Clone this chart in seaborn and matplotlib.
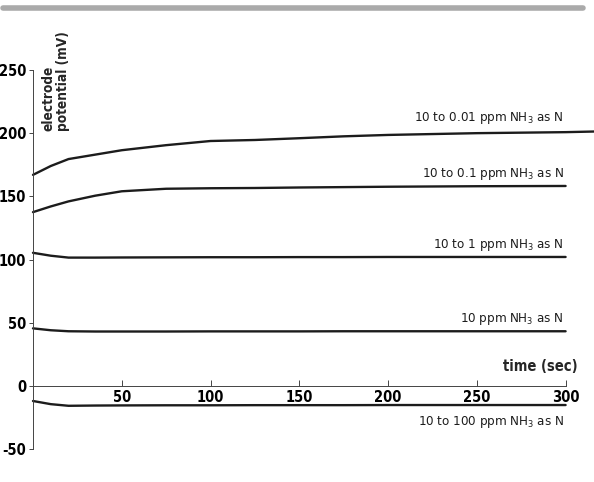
import numpy as np
import pandas as pd
import matplotlib
matplotlib.use("Agg")
import matplotlib.pyplot as plt
import seaborn as sns

# --- data ---
time_top = [0, 10, 20, 35, 50, 75, 100, 125, 150, 175, 200, 250, 300, 316]
mv_001 = [167, 174, 179.5, 183, 186.5, 190.5, 193.8, 194.6, 196, 197.5, 198.6, 200, 200.8, 201.3]

time_sec = [0, 10, 20, 35, 50, 75, 100, 125, 150, 175, 200, 250, 300]
mv_01 = [137.5, 142, 146, 150.5, 154, 156, 156.4, 156.6, 157, 157.3, 157.6, 158, 158.2]
mv_1 = [105.3, 103, 101.5, 101.5, 101.6, 101.7, 101.8, 101.8, 101.9, 101.9, 102, 102, 102]
mv_10 = [45.5, 44, 43.2, 43, 43, 43, 43.1, 43.1, 43.1, 43.2, 43.2, 43.2, 43.2]
mv_100 = [-12, -14.5, -15.8, -15.6, -15.5, -15.4, -15.4, -15.3, -15.3, -15.3, -15.2, -15.2, -15.2]

series_labels = [
    "10 to 0.01 ppm NH$_3$ as N",
    "10 to 0.1 ppm NH$_3$ as N",
    "10 to 1 ppm NH$_3$ as N",
    "10 ppm NH$_3$ as N",
    "10 to 100 ppm NH$_3$ as N",
]
label_y = [212, 168, 111.5, 53, -28.5]

x_ticks = [50, 100, 150, 200, 250, 300]
y_ticks = [-50, 0, 50, 100, 150, 200, 250]

sns.set_theme(style="white")
plt.rcParams["font.family"] = ["DejaVu Sans"]
plt.rcParams["font.stretch"] = "condensed"
plt.rcParams["axes.unicode_minus"] = False
plt.rcParams["mathtext.fontset"] = "custom"
plt.rcParams["mathtext.rm"] = "DejaVu Sans:stretch=condensed"
plt.rcParams["mathtext.it"] = "DejaVu Sans:stretch=condensed"

fig = plt.figure(figsize=(5.94, 4.82), dpi=100)
ax = fig.add_axes([33 / 594, 33 / 482, 561 / 594, 379 / 482])

ink = "#1c1c1c"
curves = [(time_top, mv_001), (time_sec, mv_01), (time_sec, mv_1),
          (time_sec, mv_10), (time_sec, mv_100)]
for xs, ys in curves:
    sns.lineplot(x=xs, y=ys, ax=ax, color=ink, linewidth=1.7, clip_on=False)

for txt, yv in zip(series_labels, label_y):
    ax.text(299, yv, txt, ha="right", va="center", fontsize=9.5, color=ink)

ax.set_xlim(0, 316)
ax.set_ylim(-50, 250)

ax.spines["top"].set_visible(False)
ax.spines["right"].set_visible(False)
ax.spines["bottom"].set_position(("data", 0))
ax.spines["bottom"].set_bounds(0, 300)
ax.spines["left"].set_bounds(-50, 250)
for s in ("left", "bottom"):
    ax.spines[s].set_color("#444444")
    ax.spines[s].set_linewidth(0.7)

ax.set_xticks(x_ticks)
ax.set_yticks(y_ticks)
ax.tick_params(axis="x", direction="in", length=4, width=0.7, colors="#444444",
               labelcolor="black", labelsize=10.5, pad=3, bottom=True)
ax.tick_params(axis="y", direction="out", length=3, width=0.7, colors="#444444",
               labelcolor="black", labelsize=10.5, pad=2, left=True)
for lab in ax.get_xticklabels() + ax.get_yticklabels():
    lab.set_fontweight("bold")

ax.text(307, 9, "time (sec)", ha="right", va="bottom", fontsize=10.5, fontweight="bold")
ax.text(5, 202, "electrode\npotential (mV)", rotation=90, ha="left", va="bottom",
        multialignment="left", fontsize=9.8, fontweight="bold", linespacing=1.0)

# grey rule across the top
fig.add_artist(plt.Line2D([3 / 594, 583 / 594], [1 - 7.5 / 482, 1 - 7.5 / 482],
                          color="#aaaaaa", linewidth=4, transform=fig.transFigure))

fig.savefig("out.png", dpi=100)
